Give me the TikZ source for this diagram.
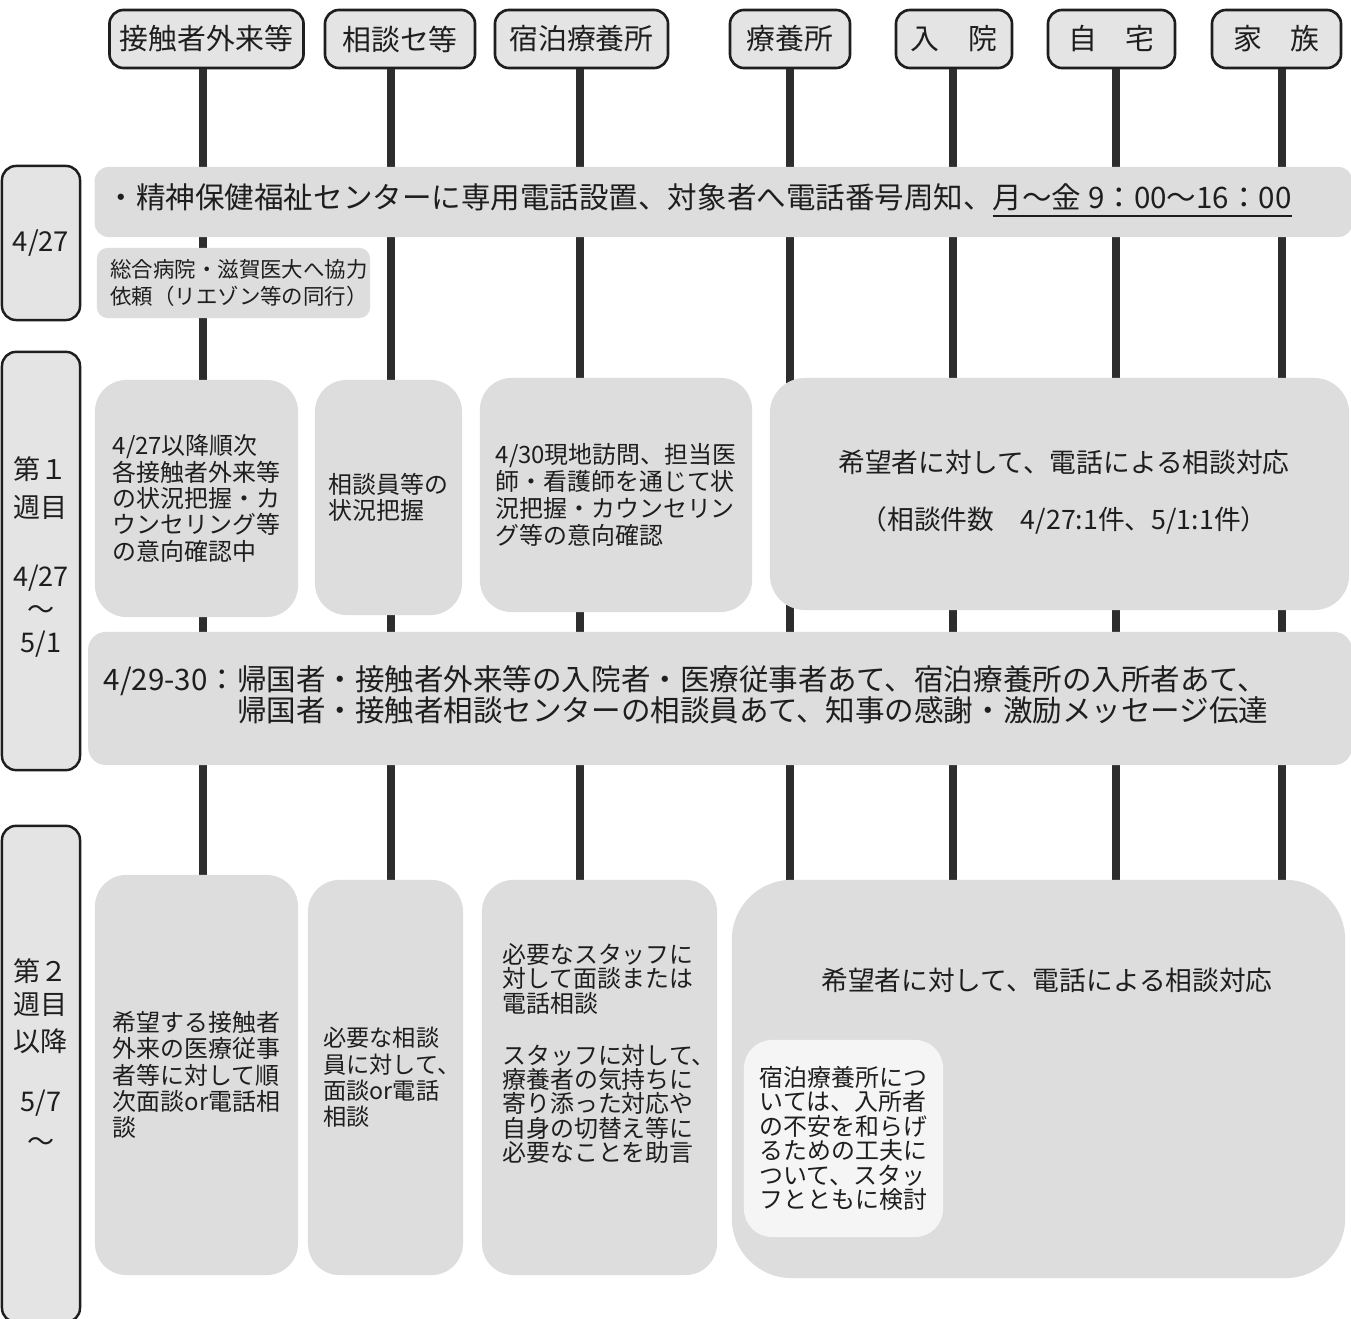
\documentclass[tikz,border=0pt]{standalone}
\usepackage{fontspec}
\setmainfont{Noto Sans CJK JP}
\usetikzlibrary{positioning}
\definecolor{ink}{RGB}{30,30,30}
\definecolor{pole}{RGB}{45,45,45}
\definecolor{headfill}{RGB}{228,228,228}
\definecolor{boxfill}{RGB}{221,221,221}
\definecolor{memofill}{RGB}{245,245,245}
\newcommand{\jsize}[2]{\fontsize{#1}{#2}\selectfont}

\begin{document}
\begin{tikzpicture}[x=0.01cm,y=-0.01cm,
    head/.style={draw=ink,fill=headfill,line width=0.75pt,rounded corners=4pt,
      minimum height=0.58cm,inner sep=0pt,text=ink,font=\jsize{8.2}{9}},
    period/.style={draw=ink,fill=headfill,line width=0.7pt,rounded corners=4pt,
      minimum width=0.78cm,inner sep=0pt},
    panel/.style={fill=boxfill,inner sep=0pt},
    txt/.style={text=ink,align=left,inner sep=0pt}]
  \path[fill=white,use as bounding box] (0,0) rectangle (1351,1319);

  % column heads
  \foreach \n/\x/\w/\t in {1/206.5/1.94/接触者外来等, 2/400/1.50/相談セ等,
      3/581.5/1.73/宿泊療養所, 4/790/1.20/療養所, 5/954/1.16/入　院,
      6/1111.5/1.27/自　宅, 7/1276.5/1.29/家　族}
    \node[head,minimum width=\w cm] (h\n) at (\x,39) {\t};

  % poles under the heads
  \foreach \n/\x in {1/203,2/391,3/580,4/790,5/953,6/1116,7/1282} {
    \coordinate (b\n) at (\x,882);
    \draw[pole,line width=2.2pt] (b\n) -- (b\n |- h\n.south);
  }

  % periods on the left
  \node[period,minimum height=1.54cm] (p1) at (41,243) {};
  \node[period,minimum height=4.18cm] (p2) at (41,561) {};
  \node[period,minimum height=4.96cm] (p3) at (41,1074) {};
  \node[txt,align=center,font=\jsize{7.8}{9}] (p1t) at (p1) {4/27};
  \node[txt,align=center,font=\jsize{7.7}{9.4}] (p2t) at (41,557)
    {第１\\[1.4pt]週目\\[10.2pt]4/27\\～\\5/1};
  \node[txt,align=center,font=\jsize{7.7}{9.4}] (p3t) at (41,1055)
    {第２\\週目\\[1.1pt]以降\\[7.7pt]5/7\\[2pt]～};

  % 4/27
  \node[panel,rounded corners=4pt,minimum width=12.57cm,minimum height=0.70cm] (band1) at (723.5,202) {};
  \node[txt,anchor=west,font=\jsize{8.4}{9}] (band1t) at (106,201)
    {・精神保健福祉センターに専用電話設置、対象者へ電話番号周知、\underline{月～金 9：00～16：00}};
  \node[panel,rounded corners=3pt,minimum width=2.73cm,minimum height=0.70cm] (S) at (233.5,283) {};
  \node[txt,font=\jsize{6.1}{7.7}] (St) at (239,283) {総合病院・滋賀医大へ協力\\依頼（リエゾン等の同行）};

  % first week
  \node[panel,rounded corners=9pt,minimum width=2.03cm,minimum height=2.37cm] (A) at (196.5,498.5) {};
  \node[panel,rounded corners=9pt,minimum width=1.47cm,minimum height=2.35cm] (B) at (388.5,497.5) {};
  \node[panel,rounded corners=9pt,minimum width=2.72cm,minimum height=2.34cm] (C) at (616,495) {};
  \node[panel,rounded corners=10pt,minimum width=5.79cm,minimum height=2.32cm] (D) at (1059.5,494) {};
  \node[txt,font=\jsize{6.8}{7.5}] (At) at (A)
    {4/27以降順次\\各接触者外来等\\の状況把握・カ\\ウンセリング等\\の意向確認中};
  \node[txt,font=\jsize{6.8}{7.2}] (Bt) at (B) {相談員等の\\状況把握};
  \node[txt,font=\jsize{6.8}{7.6}] (Ct) at (C)
    {4/30現地訪問、担当医\\師・看護師を通じて状\\況把握・カウンセリン\\グ等の意向確認};
  \node[txt,align=center,font=\jsize{7.6}{8.2}] (Dt) at (1064,492.5)
    {希望者に対して、電話による相談対応\\[8pt]（相談件数　4/27:1件、5/1:1件）};

  % 4/29-30
  \node[panel,rounded corners=5pt,minimum width=12.63cm,minimum height=1.33cm] (band2) at (720,698.5) {};
  \node[txt,anchor=west,font=\jsize{8.4}{8.8}] (band2t) at (103,696.5)
    {4/29-30：帰国者・接触者外来等の入院者・医療従事者あて、宿泊療養所の入所者あて、\\
     \phantom{4/29-30：}帰国者・接触者相談センターの相談員あて、知事の感謝・激励メッセージ伝達};

  % second week on
  \node[panel,rounded corners=9pt,minimum width=2.03cm,minimum height=4.00cm] (E) at (196.5,1075) {};
  \node[panel,rounded corners=9pt,minimum width=1.55cm,minimum height=3.95cm] (F) at (385.5,1077.5) {};
  \node[panel,rounded corners=9pt,minimum width=2.35cm,minimum height=3.95cm] (G) at (599.5,1077.5) {};
  \node[panel,rounded corners=17pt,minimum width=6.13cm,minimum height=3.98cm] (H) at (1038.5,1079) {};
  \node[fill=memofill,rounded corners=8pt,inner sep=0pt,minimum width=1.99cm,minimum height=1.97cm] (W) at (843.5,1138.5) {};
  \node[txt,font=\jsize{6.8}{7.5}] (Et) at (E)
    {希望する接触者\\外来の医療従事\\者等に対して順\\次面談or電話相\\談};
  \node[txt,font=\jsize{6.6}{7.5}] (Ft) at (392,1077.5)
    {必要な相談\\員に対して、\\面談or電話\\相談};
  \node[txt,font=\jsize{6.8}{6.95}] (Gt) at (609,1053.5)
    {必要なスタッフに\\対して面談または\\電話相談\\[7.8pt]スタッフに対して、\\療養者の気持ちに\\寄り添った対応や\\自身の切替え等に\\必要なことを助言};
  \node[txt,font=\jsize{7.6}{8.2}] (Ht) at (1047,980) {希望者に対して、電話による相談対応};
  \node[txt,font=\jsize{6.8}{6.95}] (Wt) at (W)
    {宿泊療養所につ\\いては、入所者\\の不安を和らげ\\るための工夫に\\ついて、スタッ\\フとともに検討};
\end{tikzpicture}
\end{document}
